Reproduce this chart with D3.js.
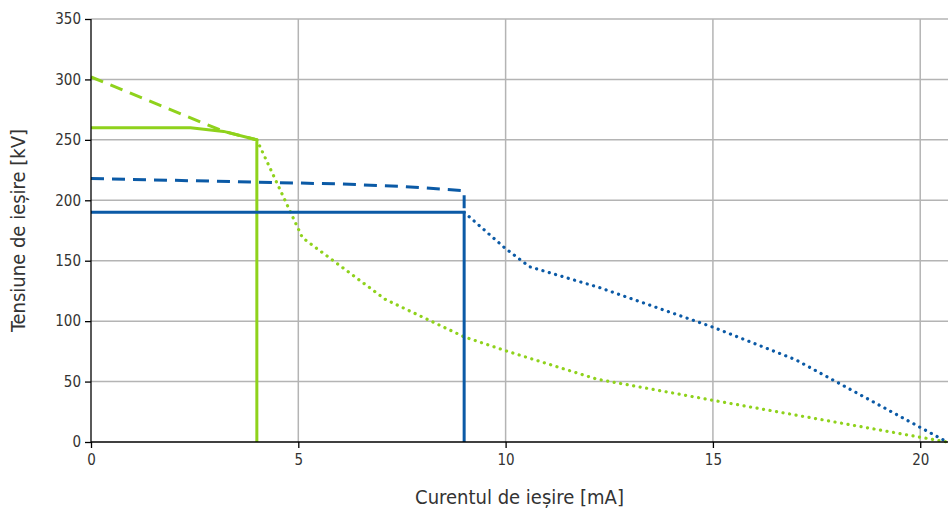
<!DOCTYPE html>
<html>
<head>
<meta charset="utf-8">
<script src="https://cdn.jsdelivr.net/npm/d3@7"></script>
<style>
  body { margin: 0; background: #fff; }
  text { font-family: "Liberation Sans Narrow", "DejaVu Sans Condensed", sans-serif; fill: #333; }
  .axis .tick text { font-size: 15px; }
  .grid line { stroke: #b4b4b4; stroke-width: 1.5; }
</style>
</head>
<body>
<svg id="chart"></svg>
<script>
// tick values
const xTicks = [0, 5, 10, 15, 20];
const yTicks = [0, 50, 100, 150, 200, 250, 300, 350];

// green series (current mA, voltage kV)
const greenSolid = [[0, 260], [2.4, 260], [3.2, 257], [4, 250], [4, 0]];
const greenDashed = [[0, 302], [3.2, 257], [4, 250]];
const greenDotted = [[4, 250], [5.1, 169], [7.1, 118], [9, 87], [10, 75.5], [12.2, 52], [15, 34.5], [20.65, 0]];

// blue series
const blueSolid = [[0, 190], [9, 190], [9, 0]];
const blueDashed = [[0, 218], [2, 216.5], [4, 215], [6, 213.5], [7.5, 211.5], [9, 208], [9, 190]];
const blueDotted = [[9, 190], [10, 160], [10.58, 145], [12.27, 127.7], [15, 95], [17, 68], [20.65, 0]];

const green = "#8fd21c";
const blue = "#0b5aa6";

const width = 951, height = 509;
const margin = {top: 19, right: 3, bottom: 67, left: 91};

const svg = d3.select("#chart").attr("width", width).attr("height", height);

const x = d3.scaleLinear().domain([0, 20.67]).range([margin.left, width - margin.right]);
const y = d3.scaleLinear().domain([0, 350]).range([height - margin.bottom, margin.top]);

// gridlines
const grid = svg.append("g").attr("class", "grid");
grid.selectAll(".hg").data(yTicks.slice(1)).enter().append("line")
    .attr("x1", x(0)).attr("x2", x(20.67))
    .attr("y1", d => y(d)).attr("y2", d => y(d));
grid.selectAll(".vg").data(xTicks.slice(1)).enter().append("line")
    .attr("x1", d => x(d)).attr("x2", d => x(d))
    .attr("y1", y(0)).attr("y2", y(350));

const line = d3.line().x(d => x(d[0])).y(d => y(d[1]));

function draw(data, color, style) {
  const p = svg.append("path")
      .datum(data)
      .attr("d", line)
      .attr("fill", "none")
      .attr("stroke", color)
      .attr("stroke-width", 3);
  if (style === "dash") p.attr("stroke-dasharray", "13 8");
  if (style === "dot") p.attr("stroke-dasharray", "0.1 6.5").attr("stroke-linecap", "round").attr("stroke-width", 3.2);
}

draw(greenDotted, green, "dot");
draw(blueDotted, blue, "dot");
draw(greenDashed, green, "dash");
draw(blueDashed, blue, "dash");
draw(greenSolid, green, "solid");
draw(blueSolid, blue, "solid");

// axes
const xAxis = d3.axisBottom(x).tickValues(xTicks).tickSize(6).tickPadding(6);
const yAxis = d3.axisLeft(y).tickValues(yTicks).tickSize(6).tickPadding(4);

svg.append("g").attr("class", "axis")
    .attr("transform", `translate(0,${y(0)})`)
    .call(xAxis)
    .call(g => g.selectAll(".domain, .tick line").attr("stroke", "#000").attr("stroke-width", 1.3))
    .call(g => g.select(".domain").attr("d", `M${x(0)},0H${x(20.67)}`));

svg.append("g").attr("class", "axis")
    .attr("transform", `translate(${x(0)},0)`)
    .call(yAxis)
    .call(g => g.selectAll(".domain, .tick line").attr("stroke", "#000").attr("stroke-width", 1.3))
    .call(g => g.select(".domain").attr("d", `M0,${y(0)}V${y(350)}`));

svg.append("text")
    .attr("x", (x(0) + x(20.67)) / 2)
    .attr("y", 504)
    .attr("text-anchor", "middle")
    .attr("font-size", 20)
    .text("Curentul de ieșire [mA]");

svg.append("text")
    .attr("transform", `translate(25,${(y(0) + y(350)) / 2}) rotate(-90)`)
    .attr("text-anchor", "middle")
    .attr("font-size", 20)
    .text("Tensiune de ieșire [kV]");
</script>
</body>
</html>
